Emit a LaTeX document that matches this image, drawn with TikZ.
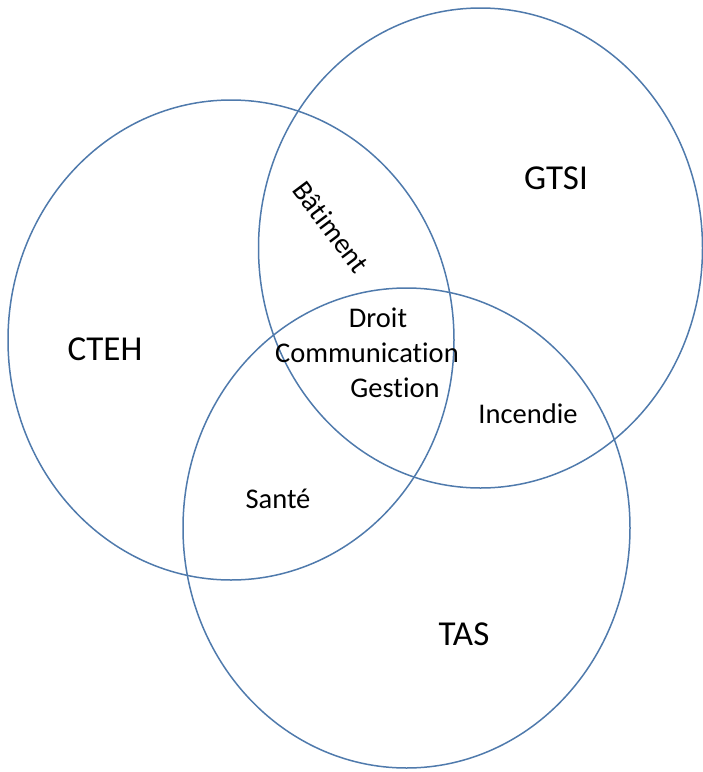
\documentclass[tikz,border=0pt]{standalone}
\usepackage{fontspec}
\setmainfont[Ligatures={NoCommon}]{Carlito}
\definecolor{ringblue}{RGB}{79,122,172}
\begin{document}
\begin{tikzpicture}[x=1pt,y=-1pt,
  ring/.style={draw=ringblue,line width=1.5pt},
  bigtxt/.style={font=\fontsize{35}{40}\selectfont,anchor=base,inner sep=0pt},
  smalltxt/.style={font=\fontsize{28.5}{33}\selectfont,anchor=base,inner sep=0pt}]
\useasboundingbox (0,0) rectangle (703,772);
\draw[ring] (231,340) ellipse [x radius=223,y radius=240];
\draw[ring] (480.5,248) ellipse [x radius=222,y radius=240];
\draw[ring] (406.5,528) ellipse [x radius=223.5,y radius=240];
\node[bigtxt] (cteh) at (105,360) {CTEH};
\node[bigtxt] (gtsi) at (556,189) {GTSI};
\node[bigtxt] (tas) at (464,645) {TAS};
\node[smalltxt,rotate=-53,anchor=center] (bat) at (331,227) {Bâtiment};
\node[smalltxt] (droit) at (378,327) {Droit};
\node[smalltxt] (comm) at (367,362) {Communication};
\node[smalltxt] (gest) at (395,397) {Gestion};
\node[smalltxt] (inc) at (528,423) {Incendie};
\node[smalltxt] (sante) at (278,508) {Santé};
\end{tikzpicture}
\end{document}
